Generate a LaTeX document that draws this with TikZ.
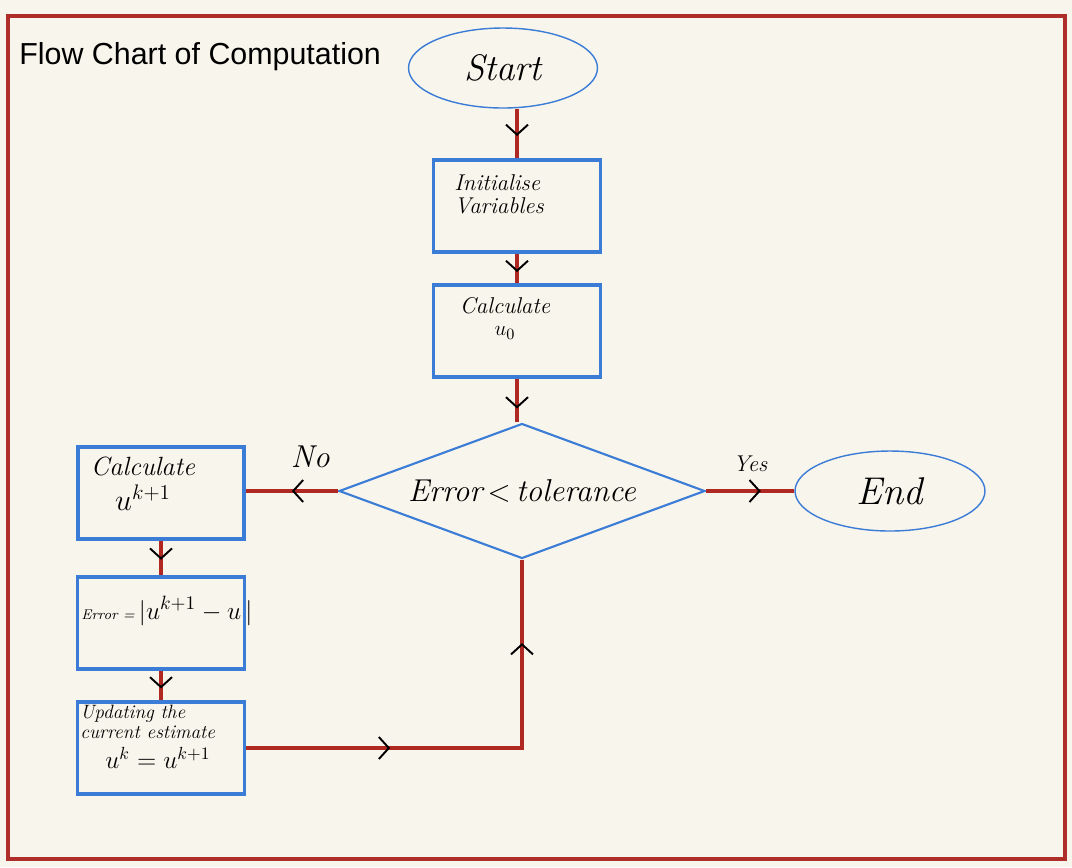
\documentclass[tikz,border=0pt]{standalone}
\usepackage{fontspec}
\newfontfamily\titlefont{Liberation Sans}
\usepackage{tikz}
\usetikzlibrary{arrows.meta}
\usetikzlibrary{shapes.geometric}
\usetikzlibrary{decorations.markings}
\definecolor{paper}{RGB}{248,245,236}
\definecolor{frame}{RGB}{176,46,42}
\definecolor{boxblue}{RGB}{58,124,214}
\definecolor{flowred}{RGB}{176,40,34}
\tikzset{>=latex}
\tikzset{
  block/.style={draw=boxblue, line width=2pt, rectangle, minimum width=3.34cm, minimum height=1.84cm, inner sep=0pt},
  term/.style={draw=boxblue, line width=0.8pt, ellipse, minimum width=3.78cm, minimum height=1.6cm, inner sep=0pt},
  test/.style={draw=boxblue, line width=1.2pt, diamond, aspect=2.7, minimum width=7.32cm, minimum height=2.7cm, inner sep=0pt},
  hand/.style={font=\itshape\fontsize{#1}{#1}\selectfont, inner sep=0pt},
  flow/.style={draw=flowred, line width=2pt},
  chev/.style={postaction={decorate, decoration={markings, mark=at position #1 with {\arrow{Straight Barb[length=2mm, width=4.4mm, line width=1.1pt, color=black]}}}}}
}
\begin{document}
\begin{tikzpicture}[x=0.02cm, y=-0.02cm]
  % paper and frame
  \fill[paper] (0,0) rectangle (1072,867);
  \draw[frame, line width=1.8pt] (8,16) rectangle (1065,859);
  \node[anchor=base west, inner sep=0pt, font=\titlefont\fontsize{17.3}{20}\selectfont] (title) at (19,64) {Flow Chart of Computation};

  %Start
  \node[term, hand=21] (start) at (503,68) {Start};

  %Initialise
  \node[block] (init) at (517,206) {};
  \node[hand=13, anchor=north west, align=left] (inittxt) at (454,174) {Initialise\\Variables};

  %u0
  \node[block] (calcu0) at (517,331) {};
  \node[hand=13, align=center] (calcu0txt) at (505,318) {Calculate\\$u_0$};

  %test
  \node[test, hand=18] (check) at (522,491) {Error\,$<$\,tolerance};

  %End
  \node[term, minimum width=3.8cm, hand=22] (end) at (890,491) {End};

  %left column
  \node[block, minimum width=3.32cm] (calcuk1) at (161,493) {};
  \node[hand=15, align=center] (calcuk1txt) at (143,484) {Calculate\\[5pt]\fontsize{17}{17}\selectfont $u^{k+1}$};

  \node[block] (errbox) at (161,623) {};
  \node[hand=15, anchor=west] (errtxt) at (81,611) {{\fontsize{8}{8}\selectfont Error =}\,$|u^{k+1}-u\,|$};

  \node[block] (update) at (161,748) {};
  \node[hand=11, anchor=north west, align=left] (updatetxt) at (80,705) {Updating the\\current estimate\\[4pt]\hspace*{0.5cm}{\fontsize{14}{14}\selectfont $u^k = u^{k+1}$}};

  % connectors
  \draw[flow, chev=0.55] (init.north |- start.south) -- (init.north);
  \draw[flow, chev=0.62] (init) -- (calcu0);
  \draw[flow, chev=0.68] (calcu0.south) -- (calcu0.south |- check.north);
  \draw[flow, chev=0.62] (check) -- node[hand=13, above=10pt] (yes) {Yes} (end);
  \draw[flow, chev=0.5] (check.west) -- node[hand=18, pos=0.3, above=12pt] (no) {No} (check.west -| calcuk1.east);
  \draw[flow, chev=0.55] (calcuk1) -- (errbox);
  \draw[flow, chev=0.6] (errbox) -- (update);
  \draw[flow, chev=0.31, chev=0.82] (update) -| (check);
\end{tikzpicture}
\end{document}
